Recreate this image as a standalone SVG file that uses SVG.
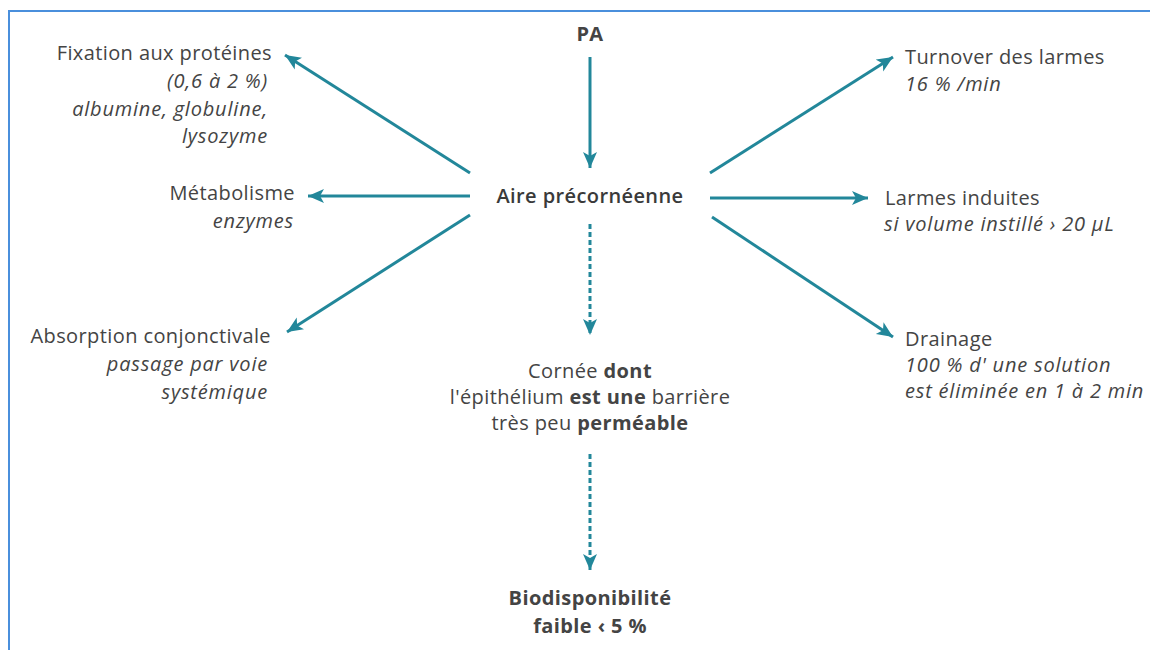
<svg xmlns="http://www.w3.org/2000/svg" width="1150" height="650" viewBox="0 0 1150 650">
<style>
.t{font-family:"Open Sans","Liberation Sans",sans-serif;font-size:20px;fill:#444444;letter-spacing:0.4px}
.i{font-style:italic;letter-spacing:0.8px}
.b{font-weight:700}
.m{font-weight:600;fill:#3a3a3a}
.e{text-anchor:end}
.c{text-anchor:middle}
.ln{stroke:#22879a;stroke-width:3;fill:none}
.dt{stroke-dasharray:5 3}
</style>
<defs>
<marker id="ah" markerUnits="userSpaceOnUse" markerWidth="18" markerHeight="16" refX="16" refY="8" orient="auto">
<path d="M0,1 L16,8 L0,15 L4,8 z" fill="#22879a"/>
</marker>
</defs>
<rect width="1150" height="650" fill="#ffffff"/>
<g id="frame">
<path d="M1150,11 H9 V650" stroke="#4a8fdc" stroke-width="2" fill="none"/>
</g>
<g id="connectors">
<line class="ln" x1="590" y1="57" x2="590" y2="168" marker-end="url(#ah)"/>
<line class="ln" x1="470" y1="173" x2="285" y2="55" marker-end="url(#ah)"/>
<line class="ln" x1="470" y1="196" x2="308" y2="196" marker-end="url(#ah)"/>
<line class="ln" x1="470" y1="215" x2="287" y2="332" marker-end="url(#ah)"/>
<line class="ln" x1="710" y1="173" x2="893" y2="57" marker-end="url(#ah)"/>
<line class="ln" x1="710" y1="198" x2="868" y2="198" marker-end="url(#ah)"/>
<line class="ln" x1="712" y1="217" x2="893" y2="337" marker-end="url(#ah)"/>
<line class="ln dt" x1="590" y1="224" x2="590" y2="335" marker-end="url(#ah)"/>
<line class="ln dt" x1="590" y1="454" x2="590" y2="570" marker-end="url(#ah)"/>
</g>
<g id="node-pa"><text class="t b c" x="590" y="41">PA</text></g>
<g id="node-aire"><text class="t m c" x="590" y="203">Aire précornéenne</text></g>
<g id="node-fixation">
<text class="t e" x="272" y="60">Fixation aux protéines</text>
<text class="t i e" x="268" y="88">(0,6 à 2 %)</text>
<text class="t i e" x="268" y="116">albumine, globuline,</text>
<text class="t i e" x="268" y="143">lysozyme</text>
</g>
<g id="node-metabolisme">
<text class="t e" x="295" y="200">Métabolisme</text>
<text class="t i e" x="294" y="228">enzymes</text>
</g>
<g id="node-absorption">
<text class="t e" x="271" y="343">Absorption conjonctivale</text>
<text class="t i e" x="268" y="371">passage par voie</text>
<text class="t i e" x="268" y="399">systémique</text>
</g>
<g id="node-turnover">
<text class="t" x="905" y="64">Turnover des larmes</text>
<text class="t i" x="905" y="91">16 % /min</text>
</g>
<g id="node-larmes">
<text class="t" x="885" y="205">Larmes induites</text>
<text class="t i" x="884" y="231">si volume instillé › 20 µL</text>
</g>
<g id="node-drainage">
<text class="t" x="905" y="346">Drainage</text>
<text class="t i" x="905" y="372">100 % d' une solution</text>
<text class="t i" x="905" y="398">est éliminée en 1 à 2 min</text>
</g>
<g id="node-cornee">
<text class="t c" x="590" y="378">Cornée <tspan class="b">dont</tspan></text>
<text class="t c" x="590" y="404">l'épithélium <tspan class="b">est une</tspan> barrière</text>
<text class="t c" x="590" y="430">très peu <tspan class="b">perméable</tspan></text>
</g>
<g id="node-bio">
<text class="t b c" x="590" y="605">Biodisponibilité</text>
<text class="t b c" x="590" y="633">faible ‹ 5 %</text>
</g>
</svg>
